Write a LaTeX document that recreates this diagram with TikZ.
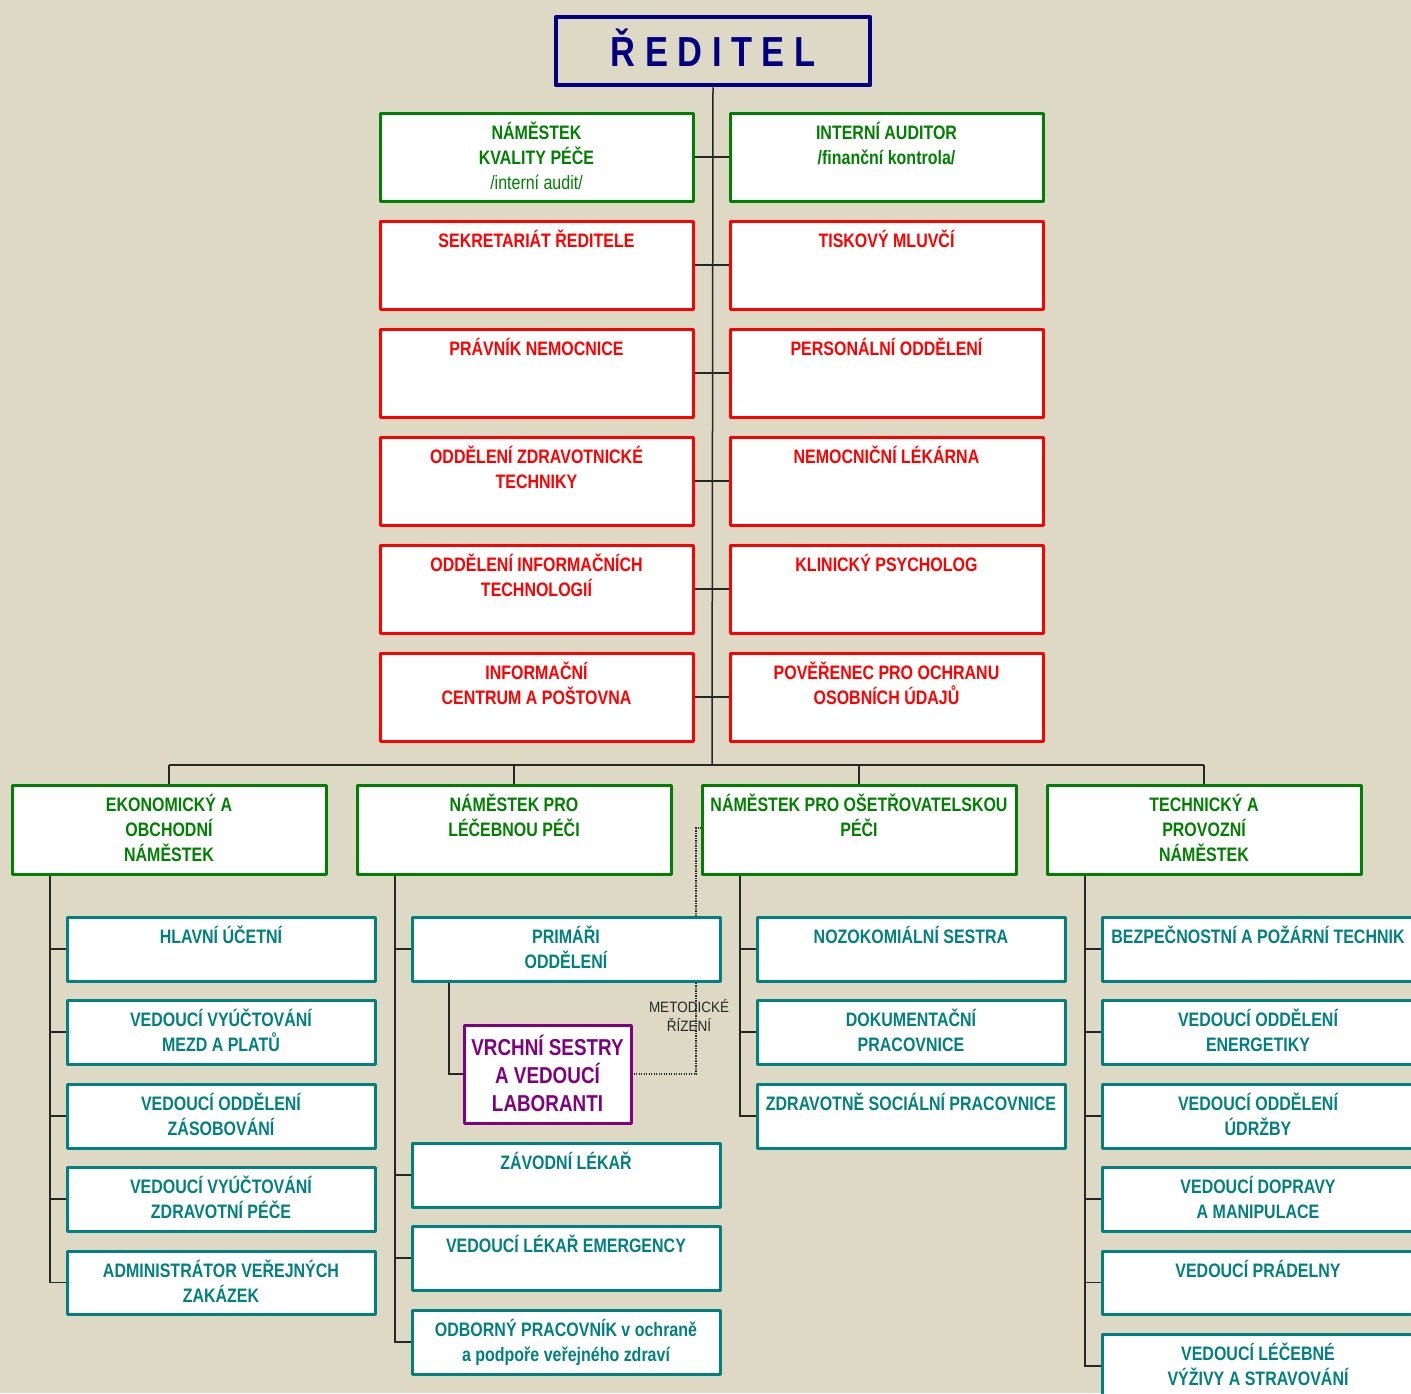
\documentclass[tikz,border=0pt]{standalone}
\usepackage{fontspec}
\usetikzlibrary{backgrounds}
\setmainfont{Liberation Sans}[FakeStretch=0.82]
\newfontfamily\metfont{Liberation Sans}[FakeStretch=0.9]
\definecolor{bg}{RGB}{221,217,196}
\definecolor{cnavy}{RGB}{0,0,128}
\definecolor{cgreen}{RGB}{0,128,0}
\definecolor{cteal}{RGB}{0,128,128}
\definecolor{cred}{RGB}{255,0,0}
\definecolor{cpurple}{RGB}{128,0,128}
\tikzset{
  box/.style={draw, fill=white, line width=3pt, inner sep=0pt, outer sep=0pt, line join=round},
  gbox/.style={box, draw=cgreen},
  rbox/.style={box, draw=cred},
  tbox/.style={box, draw=cteal},
  pbox/.style={box, draw=cpurple},
  conn/.style={line width=1.5pt, black!85},
  conn2/.style={line width=2pt, black!85},
  metod/.style={line width=1.3pt, black!85, dash pattern=on 1.2pt off 1.3pt},
  lbl/.style={anchor=base, inner sep=0pt, font=\fontsize{19.5}{25}\selectfont\bfseries}
}
\newcommand{\bx}[6]{\node[#6, minimum width={#4-#2}, minimum height={#5-#3}] (#1) at ({(#2+#4)/2},{(#3+#5)/2}) {};}
\newcommand{\tb}[3]{\node[lbl, text=#2] at ([yshift=-26.5pt]#1.north) {\parbox[t]{330pt}{\centering #3}};}
\begin{document}
\begin{tikzpicture}[x=1pt,y=-1pt]
\useasboundingbox (0,0) rectangle (1411,1393);
\begin{pgfonlayer}{background}
\fill[bg] (0,0) rectangle (1411,1393);
\end{pgfonlayer}

% director
\node[draw=cnavy, line width=4.5pt, line join=round, inner sep=0pt, minimum width=314, minimum height=68] (dir) at (713,51) {};
\node[anchor=base, inner sep=0pt, text=cnavy, font=\fontsize{42}{42}\selectfont\bfseries] (dirt) at (713,66) {Ř E D I T E L};

% coordinates
\coordinate (bus) at (712,765);
\coordinate (busL) at (169,765);
\coordinate (busR) at (1204,765);
\coordinate (c1) at (50,875);
\coordinate (c2) at (395,875);
\coordinate (c3) at (740,875);
\coordinate (c4) at (1085,875);
\coordinate (pv) at (449,982);
\coordinate (dt) at (696,828);

% top boxes
\bx{l1}{380}{113}{693}{201}{gbox}
\bx{r1}{730}{113}{1043}{201}{gbox}
\bx{l2}{380}{221}{693}{309}{rbox}
\bx{r2}{730}{221}{1043}{309}{rbox}
\bx{l3}{380}{329}{693}{417}{rbox}
\bx{r3}{730}{329}{1043}{417}{rbox}
\bx{l4}{380}{437}{693}{525}{rbox}
\bx{r4}{730}{437}{1043}{525}{rbox}
\bx{l5}{380}{545}{693}{633}{rbox}
\bx{r5}{730}{545}{1043}{633}{rbox}
\bx{l6}{380}{653}{693}{741}{rbox}
\bx{r6}{730}{653}{1043}{741}{rbox}

% level 2
\bx{e1}{12}{785}{326}{874}{gbox}
\bx{e2}{357}{785}{671}{874}{gbox}
\bx{e3}{702}{785}{1016}{874}{gbox}
\bx{e4}{1047}{785}{1361}{874}{gbox}

% column 1
\bx{a1}{67}{917}{375}{981}{tbox}
\bx{a2}{67}{1000}{375}{1064}{tbox}
\bx{a3}{67}{1084}{375}{1148}{tbox}
\bx{a4}{67}{1167}{375}{1231}{tbox}
\bx{a5}{67}{1251}{375}{1314}{tbox}
% column 2
\bx{b1}{412}{917}{720}{981}{tbox}
\bx{b2}{412}{1143}{720}{1207}{tbox}
\bx{b3}{412}{1226}{720}{1290}{tbox}
\bx{b4}{412}{1310}{720}{1374}{tbox}
\bx{vs}{464}{1025}{631}{1123}{pbox}
% column 3
\bx{d1}{757}{917}{1065}{981}{tbox}
\bx{d2}{757}{1000}{1065}{1064}{tbox}
\bx{d3}{757}{1084}{1065}{1148}{tbox}
% column 4
\bx{f1}{1102}{917}{1414}{981}{tbox}
\bx{f2}{1102}{1000}{1414}{1064}{tbox}
\bx{f3}{1102}{1084}{1414}{1148}{tbox}
\bx{f4}{1102}{1167}{1414}{1231}{tbox}
\bx{f5}{1102}{1251}{1414}{1314}{tbox}
\bx{f6}{1102}{1334}{1414}{1398}{tbox}

% connectors behind the boxes
\begin{pgfonlayer}{background}
\draw[conn] (dir.south) -- (bus);
\draw[conn] (busL) -- (busR);
\foreach \e in {e1,e2,e3,e4} \draw[conn] (\e.north) -- (\e.north |- bus);
\foreach \i in {1,...,6} \draw[conn2] (l\i.east) -- (r\i.west);
\draw[conn] (c1) |- (a5.west);
\foreach \n in {a1,a2,a3,a4} \draw[conn] (\n.west) -- (\n.west -| c1);
\draw[conn] (c2) |- (b4.west);
\foreach \n in {b1,b2,b3} \draw[conn] (\n.west) -- (\n.west -| c2);
\draw[conn] (c3) |- (d3.west);
\foreach \n in {d1,d2} \draw[conn] (\n.west) -- (\n.west -| c3);
\draw[conn] (c4) |- (f6.west);
\foreach \n in {f1,f2,f3,f4,f5} \draw[conn] (\n.west) -- (\n.west -| c4);
\draw[conn] (pv) |- (vs.west);
\draw[metod] (vs.east) -| (dt) -- (dt -| e3.west);
\end{pgfonlayer}

\node[anchor=base, inner sep=0pt, text=black!85, font=\metfont\fontsize{15}{19}\selectfont] (met) at (689,1012) {\parbox[t]{100pt}{\centering METODICKÉ\\ŘÍZENÍ}};

% texts
\tb{l1}{cgreen}{NÁMĚSTEK\\KVALITY PÉČE\\{\mdseries /interní audit/}}
\tb{r1}{cgreen}{INTERNÍ AUDITOR\\/finanční kontrola/}
\tb{l2}{cred}{SEKRETARIÁT ŘEDITELE}
\tb{r2}{cred}{TISKOVÝ MLUVČÍ}
\tb{l3}{cred}{PRÁVNÍK NEMOCNICE}
\tb{r3}{cred}{PERSONÁLNÍ ODDĚLENÍ}
\tb{l4}{cred}{ODDĚLENÍ ZDRAVOTNICKÉ\\TECHNIKY}
\tb{r4}{cred}{NEMOCNIČNÍ LÉKÁRNA}
\tb{l5}{cred}{ODDĚLENÍ INFORMAČNÍCH\\TECHNOLOGIÍ}
\tb{r5}{cred}{KLINICKÝ PSYCHOLOG}
\tb{l6}{cred}{INFORMAČNÍ\\CENTRUM A POŠTOVNA}
\tb{r6}{cred}{POVĚŘENEC PRO OCHRANU\\OSOBNÍCH ÚDAJŮ}

\tb{e1}{cgreen}{EKONOMICKÝ A\\OBCHODNÍ\\NÁMĚSTEK}
\tb{e2}{cgreen}{NÁMĚSTEK PRO\\LÉČEBNOU PÉČI}
\tb{e3}{cgreen}{NÁMĚSTEK PRO OŠETŘOVATELSKOU\\PÉČI}
\tb{e4}{cgreen}{TECHNICKÝ A\\PROVOZNÍ\\NÁMĚSTEK}

\tb{a1}{cteal}{HLAVNÍ ÚČETNÍ}
\tb{a2}{cteal}{VEDOUCÍ VYÚČTOVÁNÍ\\MEZD A PLATŮ}
\tb{a3}{cteal}{VEDOUCÍ ODDĚLENÍ\\ZÁSOBOVÁNÍ}
\tb{a4}{cteal}{VEDOUCÍ VYÚČTOVÁNÍ\\ZDRAVOTNÍ PÉČE}
\tb{a5}{cteal}{ADMINISTRÁTOR VEŘEJNÝCH\\ZAKÁZEK}

\tb{b1}{cteal}{PRIMÁŘI\\ODDĚLENÍ}
\tb{b2}{cteal}{ZÁVODNÍ LÉKAŘ}
\tb{b3}{cteal}{VEDOUCÍ LÉKAŘ EMERGENCY}
\tb{b4}{cteal}{ODBORNÝ PRACOVNÍK v ochraně\\a podpoře veřejného zdraví}
\node[anchor=base, inner sep=0pt, text=cpurple, font=\fontsize{23}{28}\selectfont\bfseries] (vst) at ([yshift=-30pt]vs.north) {\parbox[t]{200pt}{\centering VRCHNÍ SESTRY\\A VEDOUCÍ\\LABORANTI}};

\tb{d1}{cteal}{NOZOKOMIÁLNÍ SESTRA}
\tb{d2}{cteal}{DOKUMENTAČNÍ\\PRACOVNICE}
\tb{d3}{cteal}{ZDRAVOTNĚ SOCIÁLNÍ PRACOVNICE}

\tb{f1}{cteal}{BEZPEČNOSTNÍ A POŽÁRNÍ TECHNIK}
\tb{f2}{cteal}{VEDOUCÍ ODDĚLENÍ\\ENERGETIKY}
\tb{f3}{cteal}{VEDOUCÍ ODDĚLENÍ\\ÚDRŽBY}
\tb{f4}{cteal}{VEDOUCÍ DOPRAVY\\A MANIPULACE}
\tb{f5}{cteal}{VEDOUCÍ PRÁDELNY}
\tb{f6}{cteal}{VEDOUCÍ LÉČEBNÉ\\VÝŽIVY A STRAVOVÁNÍ}
\end{tikzpicture}
\end{document}
